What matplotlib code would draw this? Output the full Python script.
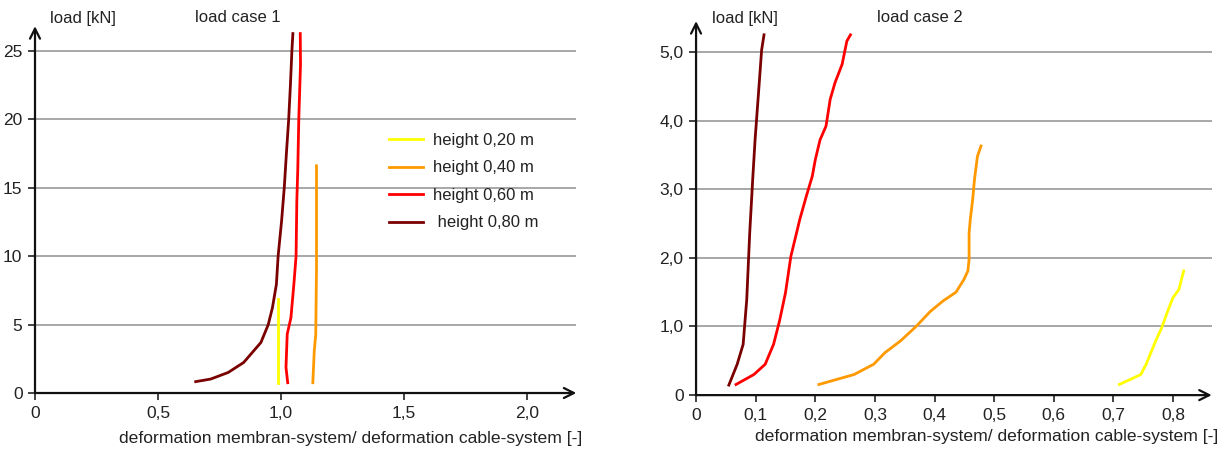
import matplotlib.pyplot as plt

plt.rcParams['font.family'] = ['Liberation Sans', 'DejaVu Sans']

# load case 1 : x = deformation ratio, y = load [kN]
lc1_h20_x = [0.986, 0.986]
lc1_h20_y = [0.75, 6.86]
lc1_h40_x = [1.129, 1.135, 1.141, 1.144, 1.144]
lc1_h40_y = [0.75, 3.1, 4.3, 9.15, 16.6]
lc1_h60_x = [1.027, 1.020, 1.025, 1.040, 1.052, 1.061, 1.064, 1.068, 1.072, 1.079, 1.078]
lc1_h60_y = [0.75, 1.87, 4.3, 5.5, 7.94, 10.0, 14.0, 16.4, 20.0, 24.0, 26.26]
lc1_h80_x = [0.653, 0.714, 0.785, 0.848, 0.918, 0.948, 0.965, 0.981, 0.988, 1.002,
             1.013, 1.022, 1.031, 1.038, 1.044, 1.048]
lc1_h80_y = [0.83, 1.02, 1.50, 2.23, 3.69, 5.0, 6.24, 7.94, 10.0, 12.55,
             15.0, 17.6, 20.0, 22.5, 25.0, 26.26]

# load case 2
lc2_h20_x = [0.710, 0.746, 0.755, 0.763, 0.771, 0.781, 0.791, 0.800, 0.810, 0.814, 0.818]
lc2_h20_y = [0.155, 0.30, 0.45, 0.62, 0.79, 0.98, 1.22, 1.42, 1.54, 1.68, 1.81]
lc2_h40_x = [0.206, 0.265, 0.298, 0.317, 0.343, 0.369, 0.393, 0.414, 0.436, 0.449,
             0.456, 0.458, 0.458, 0.460, 0.464, 0.467, 0.472, 0.478]
lc2_h40_y = [0.155, 0.30, 0.45, 0.62, 0.79, 1.0, 1.22, 1.37, 1.50, 1.68,
             1.81, 1.98, 2.36, 2.56, 2.85, 3.14, 3.48, 3.63]
lc2_h60_x = [0.067, 0.097, 0.116, 0.130, 0.140, 0.150, 0.159, 0.174, 0.185, 0.195,
             0.200, 0.208, 0.218, 0.225, 0.233, 0.245, 0.253, 0.259]
lc2_h60_y = [0.155, 0.30, 0.45, 0.74, 1.08, 1.49, 2.02, 2.56, 2.90, 3.19,
             3.43, 3.72, 3.92, 4.31, 4.55, 4.82, 5.16, 5.25]
lc2_h80_x = [0.055, 0.069, 0.079, 0.085, 0.090, 0.095, 0.099, 0.106, 0.110, 0.114]
lc2_h80_y = [0.146, 0.45, 0.74, 1.39, 2.36, 3.14, 3.72, 4.55, 5.03, 5.25]

labels = ['height 0,20 m', 'height 0,40 m', 'height 0,60 m', ' height 0,80 m']
colors = ['#ffff00', '#ff9900', '#ff0000', '#7a0000']

lc1_xticks = [0, 0.5, 1.0, 1.5, 2.0]
lc1_xlabels = ['0', '0,5', '1,0', '1,5', '2,0']
lc1_yticks = [0, 5, 10, 15, 20, 25]
lc1_ylabels = ['0', '5', '10', '15', '20', '25']
lc2_xticks = [0, 0.1, 0.2, 0.3, 0.4, 0.5, 0.6, 0.7, 0.8]
lc2_xlabels = ['0', '0,1', '0,2', '0,3', '0,4', '0,5', '0,6', '0,7', '0,8']
lc2_yticks = [0, 1, 2, 3, 4, 5]
lc2_ylabels = ['0', '1,0', '2,0', '3,0', '4,0', '5,0']

xlabel = 'deformation membran-system/ deformation cable-system [-]'

fig = plt.figure(figsize=(12.22, 4.49), dpi=100)
ax1 = fig.add_axes([35 / 1222, 0.1247, 0.443, 0.817])
ax2 = fig.add_axes([0.5696, 0.120, 0.422, 0.833])


def style(ax, xmax, ymax, xt, xl, yt, yl):
    ax.set_xlim(0, xmax)
    ax.set_ylim(0, ymax)
    for s in ['top', 'right', 'left', 'bottom']:
        ax.spines[s].set_visible(False)
    for v in yt[1:]:
        ax.axhline(v, color='#a0a0a0', lw=1.3, zorder=0)
    ax.set_xticks(xt)
    ax.set_xticklabels(xl)
    ax.set_yticks(yt)
    ax.set_yticklabels(yl)
    ax.tick_params(length=5, width=1.2, color='#222222', labelsize=12.5,
                   labelcolor='#222222', pad=4)
    ax.annotate('', xy=(1.0, 0), xytext=(0, 0), xycoords='axes fraction',
                arrowprops=dict(arrowstyle='->', lw=1.6, color='#111111',
                                mutation_scale=18, shrinkA=0, shrinkB=0))
    ax.annotate('', xy=(0, 1.0), xytext=(0, 0), xycoords='axes fraction',
                arrowprops=dict(arrowstyle='->', lw=1.6, color='#111111',
                                mutation_scale=18, shrinkA=0, shrinkB=0))


style(ax1, 2.2, 26.8, lc1_xticks, lc1_xlabels, lc1_yticks, lc1_ylabels)
style(ax2, 0.865, 5.45, lc2_xticks, lc2_xlabels, lc2_yticks, lc2_ylabels)

lc1 = [(lc1_h20_x, lc1_h20_y), (lc1_h40_x, lc1_h40_y), (lc1_h60_x, lc1_h60_y), (lc1_h80_x, lc1_h80_y)]
lc2 = [(lc2_h20_x, lc2_h20_y), (lc2_h40_x, lc2_h40_y), (lc2_h60_x, lc2_h60_y), (lc2_h80_x, lc2_h80_y)]
for (x, y), c, lab in zip(lc1, colors, labels):
    ax1.plot(x, y, color=c, lw=2, label=lab)
for (x, y), c in zip(lc2, colors):
    ax2.plot(x, y, color=c, lw=2)

leg = ax1.legend(loc='upper left', bbox_to_anchor=(0.627, 0.75), frameon=False,
                 fontsize=12, handlelength=2.0, handletextpad=0.6, labelspacing=0.75)
for t in leg.get_texts():
    t.set_color('#222222')

fig.text(50 / 1222, 1 - 18 / 449, 'load [kN]', fontsize=12, color='#222222', va='center')
fig.text(195 / 1222, 1 - 18 / 449, 'load case 1', fontsize=12, color='#222222', va='center')
fig.text(712 / 1222, 1 - 18 / 449, 'load [kN]', fontsize=12, color='#222222', va='center')
fig.text(877 / 1222, 1 - 18 / 449, 'load case 2', fontsize=12, color='#222222', va='center')
fig.text(582 / 1222, 1 - 438 / 449, xlabel, fontsize=12.6, color='#222222', va='center', ha='right')
fig.text(1218 / 1222, 1 - 436 / 449, xlabel, fontsize=12.6, color='#222222', va='center', ha='right')

fig.savefig('out.png', dpi=100)
